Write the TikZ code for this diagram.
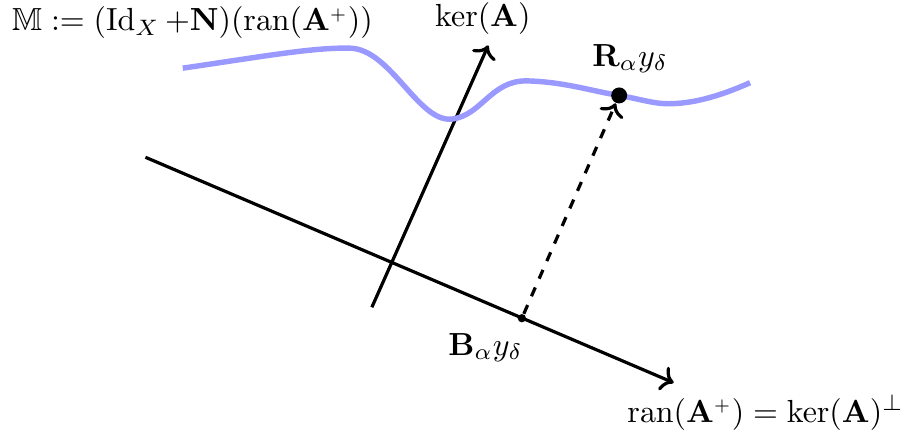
\documentclass[tikz,border=0pt]{standalone}
\usepackage{amsmath, amssymb}
\usepackage{xcolor}
\usepackage{tikz}
\usetikzlibrary{
  arrows.meta,
  positioning,
  calc
}

\begin{document}
\begin{tikzpicture}[
  axisline/.style={draw=black, line width=1pt, ->},
  manifold/.style={draw=blue!40, line width=1.7pt},
  projline/.style={draw=black, dashed, line width=1pt, ->},
  bigdot/.style={circle, fill=black, inner sep=0pt, minimum size=5pt},
  smalldot/.style={circle, fill=black, inner sep=0pt, minimum size=2.6pt},
  lbl/.style={inner sep=1pt}
]
\useasboundingbox (0,0) rectangle (9.91,4.80);

% ============ SUBSPACES ============
\coordinate (ranstart) at (1.60,3.07);
\coordinate (ranend)   at (7.41,0.59);
\coordinate (kerstart) at (4.09,1.42);
\coordinate (kerend)   at (5.37,4.30);
\draw[axisline] (ranstart) -- (ranend);
\draw[axisline] (kerstart) -- (kerend);

% ============ MANIFOLD ============
\draw[manifold] (2.01,4.05) .. controls (2.90,4.18) and (3.45,4.28) .. (3.85,4.27)
  .. controls (4.30,4.26) and (4.60,3.45) .. (4.97,3.49)
  .. controls (5.30,3.53) and (5.40,3.92) .. (5.80,3.91)
  .. controls (6.20,3.90) and (6.50,3.80) .. (6.81,3.75)
  .. controls (7.05,3.71) and (7.20,3.65) .. (7.40,3.66)
  .. controls (7.70,3.67) and (8.00,3.78) .. (8.25,3.89);

% ============ POINTS ============
\node[bigdot]   (rpt) at (6.81,3.75) {};
\node[smalldot] (bpt) at (5.74,1.30) {};
\draw[projline] (bpt) -- (rpt);

% ============ LABELS ============
\node[lbl] (kerlbl) at (5.31,4.60) {$\operatorname{ker}(\mathbf{A})$};
\node[lbl] (rlbl)   at (6.93,4.16) {$\mathbf{R}_\alpha y_\delta$};
\node[lbl] (blbl)   at (5.34,0.98) {$\mathbf{B}_\alpha y_\delta$};
\node[lbl] (ranlbl) at (8.42,0.26)
  {$\operatorname{ran}(\mathbf{A}^{\scriptscriptstyle +}) = \operatorname{ker}(\mathbf{A})^{\perp}$};
\node[lbl, anchor=west] (mlbl) at (0.09,4.55)
  {$\mathbb{M} := (\mathrm{Id}_X\,{+}\mathbf{N})(\operatorname{ran}(\mathbf{A}^{\scriptscriptstyle +}))$};

\end{tikzpicture}
\end{document}
